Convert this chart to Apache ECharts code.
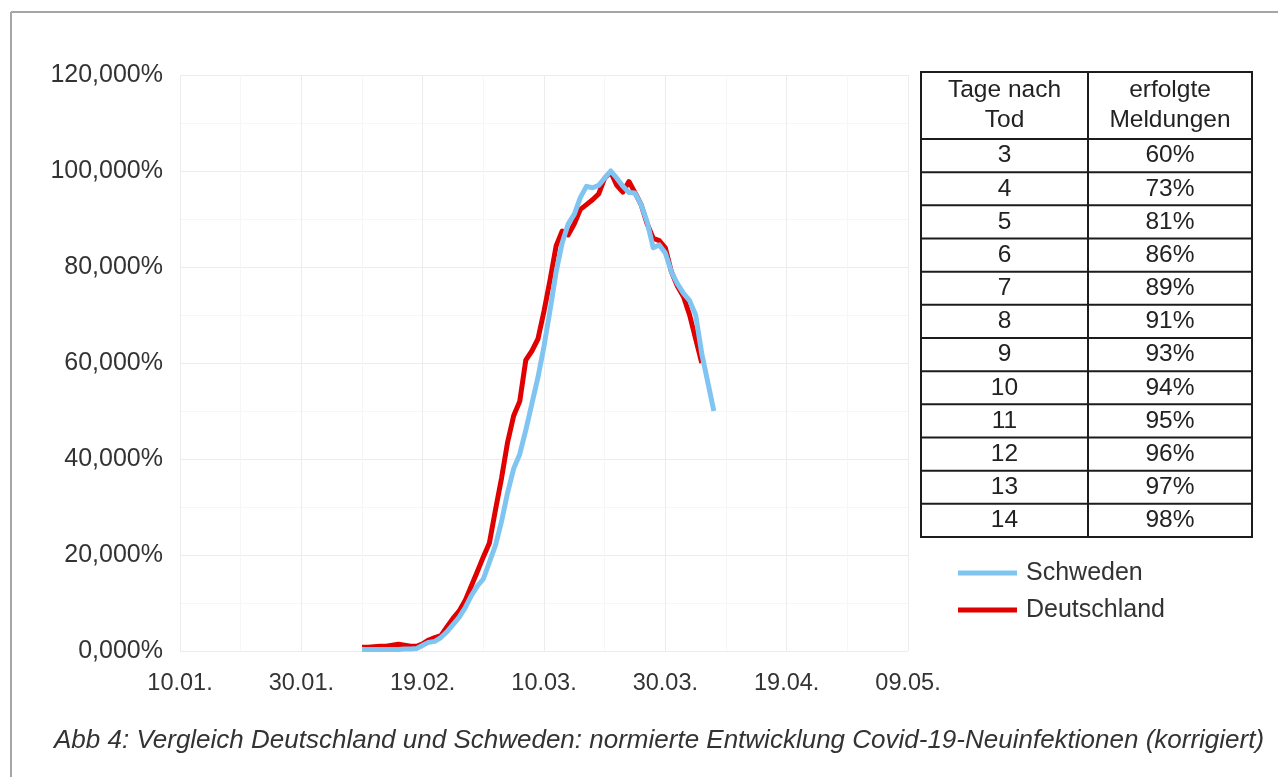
<!DOCTYPE html>
<html>
<head>
<meta charset="utf-8">
<script src="https://cdn.jsdelivr.net/npm/echarts@6/dist/echarts.min.js"></script>
<style>
  html, body { margin: 0; padding: 0; background: #ffffff; }
  #chart { width: 1278px; height: 777px; }
</style>
</head>
<body>
<div id="chart"></div>
<script>
// X axis: days since 10.01.2020; tick labels every 20 days
const xTickLabels = ['10.01.', '30.01.', '19.02.', '10.03.', '30.03.', '19.04.', '09.05.'];
const firstDay = 30; // 09.02. = 30 days after 10.01.

// Normalised new infections (% of peak), one value per day starting at firstDay
const schwedenValues = [
  0.3, 0.3, 0.3, 0.3, 0.3, 0.3, 0.3, 0.4, 0.4, 0.5,
  1.2, 1.8, 2.0, 2.8, 4.0, 5.5, 7.0, 9.0, 11.5, 13.5,
  15.0, 18.5, 22.0, 27.0, 33.0, 38.0, 41.0, 46.0, 51.5, 57.0,
  63.5, 71.0, 79.0, 85.0, 89.0, 91.0, 94.5, 96.8, 96.5, 97.0,
  98.5, 100.0, 98.5, 96.8, 95.5, 95.4, 93.0, 89.4, 84.0, 84.6,
  82.9, 79.0, 76.5, 74.5, 73.0, 70.0, 62.0, 56.0, 50.0
];
const deutschlandValues = [
  0.8, 0.8, 0.9, 1.0, 1.0, 1.2, 1.4, 1.2, 1.0, 1.0,
  1.5, 2.3, 2.8, 3.2, 5.0, 6.8, 8.3, 10.5, 13.5, 16.5,
  19.6, 22.5, 29.4, 36.0, 43.5, 49.0, 52.0, 60.6, 62.5, 65.0,
  70.8, 77.3, 84.4, 87.5, 86.7, 89.0, 92.0, 93.0, 94.0, 95.2,
  98.5, 99.8, 97.0, 95.6, 97.8, 95.5, 93.0, 89.0, 86.0, 85.5,
  84.0, 79.0, 76.0, 73.8, 70.0, 65.0, 60.0
];

// Table: reporting delay
const tableHeader = ['Tage nach\nTod', 'erfolgte\nMeldungen'];
const tageNachTod = ['3', '4', '5', '6', '7', '8', '9', '10', '11', '12', '13', '14'];
const erfolgteMeldungen = ['60%', '73%', '81%', '86%', '89%', '91%', '93%', '94%', '95%', '96%', '97%', '98%'];

const seriesNames = ['Schweden', 'Deutschland'];
const caption = 'Abb 4: Vergleich Deutschland und Schweden: normierte Entwicklung Covid-19-Neuinfektionen (korrigiert)';

const FONT = '"Liberation Sans", Arial, sans-serif';
const toPoints = vals => vals.map((v, i) => [firstDay + i, v]);

// Table geometry
const tLeft = 921, tRight = 1252, tMid = 1088, tTop = 72, tHeadBottom = 139, tBottom = 537;
const rowH = (tBottom - tHeadBottom) / tageNachTod.length;
const tableEls = [];
const lineStyle = { stroke: '#1c1c1c', lineWidth: 2 };
tableEls.push({ type: 'rect', shape: { x: tLeft, y: tTop, width: tRight - tLeft, height: tBottom - tTop }, style: { fill: '#fff', stroke: '#1c1c1c', lineWidth: 2 }, z: 10 });
tableEls.push({ type: 'line', shape: { x1: tMid, y1: tTop, x2: tMid, y2: tBottom }, style: lineStyle, z: 11 });
tableEls.push({ type: 'line', shape: { x1: tLeft, y1: tHeadBottom, x2: tRight, y2: tHeadBottom }, style: lineStyle, z: 11 });
for (let i = 1; i < tageNachTod.length; i++) {
  const y = tHeadBottom + i * rowH;
  tableEls.push({ type: 'line', shape: { x1: tLeft, y1: y, x2: tRight, y2: y }, style: lineStyle, z: 11 });
}
const cellText = (txt, cx, cy) => ({
  type: 'text', x: cx, y: cy, z: 12,
  style: { text: txt, font: '24.5px ' + FONT, fill: '#222', align: 'center', verticalAlign: 'middle', lineHeight: 30 }
});
tableEls.push(cellText(tableHeader[0], (tLeft + tMid) / 2, (tTop + tHeadBottom) / 2));
tableEls.push(cellText(tableHeader[1], (tMid + tRight) / 2, (tTop + tHeadBottom) / 2));
tageNachTod.forEach((t, i) => {
  const cy = tHeadBottom + (i + 0.5) * rowH;
  tableEls.push(cellText(t, (tLeft + tMid) / 2, cy));
  tableEls.push(cellText(erfolgteMeldungen[i], (tMid + tRight) / 2, cy));
});

const frameEls = [
  { type: 'line', shape: { x1: 11, y1: 12, x2: 11, y2: 777 }, style: { stroke: '#a6a6a6', lineWidth: 2 } },
  { type: 'line', shape: { x1: 11, y1: 12, x2: 1278, y2: 12 }, style: { stroke: '#a6a6a6', lineWidth: 2 } },
  { type: 'text', x: 54, y: 741, style: { text: caption, font: 'italic 26px ' + FONT, fill: '#333', verticalAlign: 'middle' } }
];

const chart = echarts.init(document.getElementById('chart'), null, { renderer: 'canvas' });
chart.setOption({
  animation: false,
  backgroundColor: '#ffffff',
  grid: { left: 180, right: 370, top: 75, bottom: 126 },
  legend: {
    data: seriesNames,
    orient: 'vertical',
    left: 953,
    top: 555,
    icon: 'rect',
    itemWidth: 59,
    itemHeight: 5,
    itemGap: 11,
    textStyle: { fontFamily: FONT, fontSize: 25, color: '#333', lineHeight: 26, padding: [0, 0, 0, 4] }
  },
  xAxis: {
    type: 'value',
    min: 0, max: 120, interval: 20,
    axisLine: { show: false },
    axisTick: { show: false },
    axisLabel: {
      fontFamily: FONT, fontSize: 23.5, color: '#333', margin: 21,
      formatter: v => xTickLabels[Math.round(v / 20)] || ''
    },
    splitLine: { show: true, lineStyle: { color: '#ececec', width: 1 } },
    minorTick: { show: false, splitNumber: 2 },
    minorSplitLine: { show: true, lineStyle: { color: '#f6f6f6', width: 1 } }
  },
  yAxis: {
    type: 'value',
    min: 0, max: 120, interval: 20,
    axisLine: { show: false },
    axisTick: { show: false },
    axisLabel: {
      fontFamily: FONT, fontSize: 25, color: '#333', margin: 17,
      formatter: v => v.toFixed(3).replace('.', ',') + '%'
    },
    splitLine: { show: true, lineStyle: { color: '#ececec', width: 1 } },
    minorTick: { show: false, splitNumber: 2 },
    minorSplitLine: { show: true, lineStyle: { color: '#f6f6f6', width: 1 } }
  },
  series: [
    {
      name: 'Deutschland', type: 'line', data: toPoints(deutschlandValues),
      symbol: 'none', lineStyle: { color: '#e00000', width: 5, join: 'round' }, itemStyle: { color: '#e00000' }, z: 2
    },
    {
      name: 'Schweden', type: 'line', data: toPoints(schwedenValues),
      symbol: 'none', lineStyle: { color: '#80c5f2', width: 5, join: 'round' }, itemStyle: { color: '#80c5f2' }, z: 3
    }
  ],
  graphic: frameEls.concat(tableEls)
});
</script>
</body>
</html>
